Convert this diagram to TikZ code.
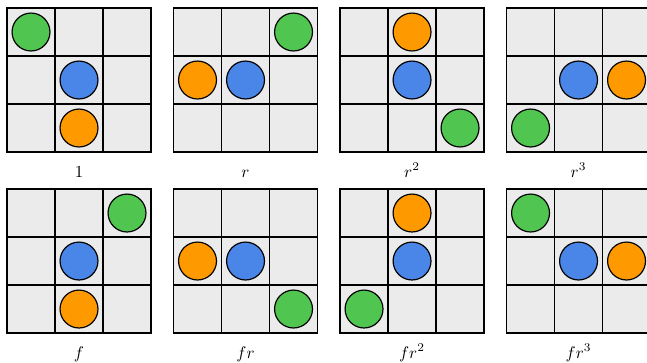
\documentclass[tikz,border=0pt]{standalone}
\definecolor{cgreen}{RGB}{80,197,80}
\definecolor{cblue}{RGB}{74,134,232}
\definecolor{corange}{RGB}{255,153,0}
\definecolor{cgrey}{RGB}{235,235,235}
\tikzset{
  cellbox/.style={draw=black, line width=0.8pt, minimum size=1cm, inner sep=0pt, outer sep=0pt},
  ball/.style={circle, draw=black, line width=0.7pt, minimum size=0.79cm, inner sep=0pt},
  lab/.style={anchor=base, inner sep=0pt, font=\normalsize}
}
\begin{document}
\begin{tikzpicture}
\fill[white] (0,0) rectangle (13.479,7.542);
\useasboundingbox (0,0) rectangle (13.479,7.542);
\foreach \i/\x/\y/\ly/\lbl/\gx/\gy/\bx/\by/\ox/\oy in {
  a/0.146/7.375/3.854/1/0/0/1/1/1/2,
  b/3.615/7.375/3.854/r/2/0/1/1/0/1,
  c/7.084/7.375/3.854/r^2/2/2/1/1/1/0,
  d/10.553/7.375/3.854/r^3/0/2/1/1/2/1,
  e/0.146/3.604/0.083/f/2/0/1/1/1/2,
  g/3.615/3.604/0.083/fr/2/2/1/1/0/1,
  h/7.084/3.604/0.083/fr^2/0/2/1/1/1/0,
  k/10.553/3.604/0.083/fr^3/0/0/1/1/2/1}{
  \fill[cgrey] (\x,\y) rectangle ++(3,-3);
  \foreach \c in {0,1,2}{
    \foreach \r in {0,1,2}{
      \node[cellbox] (p\i-\c\r) at ({\x+\c+0.5},{\y-\r-0.5}) {};
    }
  }
  \node[ball, fill=cgreen] (p\i-green) at (p\i-\gx\gy) {};
  \node[ball, fill=cblue] (p\i-blue) at (p\i-\bx\by) {};
  \node[ball, fill=corange] (p\i-orange) at (p\i-\ox\oy) {};
  \node[lab] (p\i-label) at ({\x+1.5},\ly) {$\lbl$};
}
\end{tikzpicture}
\end{document}
